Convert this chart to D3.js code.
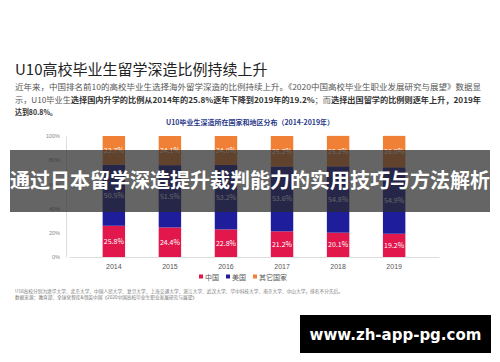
<!DOCTYPE html>
<html>
<head>
<meta charset="utf-8">
<script src="https://cdn.jsdelivr.net/npm/d3@7"></script>
<style>
  body { margin: 0; background: #fff; }
  svg { display: block; font-family: "Noto Sans CJK SC", "Noto Sans", sans-serif; }
</style>
</head>
<body>
<svg id="chart" width="500" height="362"></svg>
<script>
// data
const years = ['2014', '2015', '2016', '2017', '2018', '2019'];
const china = [25.8, 24.4, 22.8, 21.2, 20.1, 19.2];
const usa = [50.5, 51.5, 53.2, 53.6, 54.8, 54.9];
const other = [23.7, 24.1, 24.0, 25.2, 25.2, 26.0];
const seriesNames = ['中国', '美国', '其它国家'];
const yTicks = [0, 20, 40, 60, 80, 100];

const colors = { '中国': '#e2174c', '美国': '#1e1e9c', '其它国家': '#ef8035' };

const svg = d3.select('#chart');

// page title + intro text
svg.append('text')
    .attr('x', 15).attr('y', 75)
    .attr('font-size', 15).attr('fill', '#222')
    .text('U10高校毕业生留学深造比例持续上升');

// each line: pieces of [text, bold?]
const para = [
    {parts: [['近年来，中国排名前10的高校毕业生选择海外留学深造的比例持续上升。《2020中国高校毕业生职业发展研究与展望》数据显', false]], y: 90, w: 466},
    {parts: [['示，U10毕业生', false], ['选择国内升学的比例从2014年的25.8%逐年下降到2019年的19.2%', true], ['；而', false], ['选择出国留学的比例则逐年上升，2019年', true]], y: 103, w: 466},
    {parts: [['达到80.8%。', true]], y: 115, w: 42}
];
const paraText = svg.selectAll('.para').data(para).enter().append('text')
    .attr('class', 'para')
    .attr('x', 15).attr('y', d => d.y)
    .attr('font-size', 7.5).attr('fill', '#555')
    .attr('textLength', d => d.w).attr('lengthAdjust', 'spacingAndGlyphs');
paraText.selectAll('tspan').data(d => d.parts).enter().append('tspan')
    .attr('font-weight', d => d[1] ? 'bold' : 'normal')
    .attr('fill', d => d[1] ? '#333' : '#555')
    .text(d => d[0]);

svg.append('text')
    .attr('x', 250).attr('y', 125)
    .attr('text-anchor', 'middle')
    .attr('font-size', 7).attr('font-weight', 'bold').attr('fill', '#2a3a8a')
    .text('U10毕业生深造所在国家和地区分布（2014-2019年）');

// scales
const x = d3.scaleBand().domain(years).range([69, 439]).padding(0.6);
const y = d3.scaleLinear().domain([0, 100]).range([257, 136]);

const table = years.map((yr, i) => ({year: yr, '中国': china[i], '美国': usa[i], '其它国家': other[i]}));
const stack = d3.stack().keys(seriesNames)(table);

// y axis
const yAxis = svg.append('g')
    .attr('transform', 'translate(66,0)')
    .call(d3.axisLeft(y).tickValues(yTicks).tickFormat(d => d + '%').tickSize(0).tickPadding(6));
yAxis.select('.domain').attr('stroke', '#ddd');
yAxis.selectAll('text').attr('font-size', 5.5).attr('fill', '#888');

// bars
const layers = svg.selectAll('.layer').data(stack).enter().append('g')
    .attr('class', 'layer')
    .attr('fill', d => colors[d.key]);

layers.selectAll('rect').data(d => d).enter().append('rect')
    .attr('x', d => x(d.data.year))
    .attr('width', x.bandwidth())
    .attr('y', d => y(d[1]))
    .attr('height', d => y(d[0]) - y(d[1]));

layers.selectAll('.lbl').data(d => d.map(v => ({v, key: d.key}))).enter().append('text')
    .attr('class', 'lbl')
    .attr('x', d => x(d.v.data.year) + x.bandwidth() / 2)
    .attr('y', d => (y(d.v[0]) + y(d.v[1])) / 2 + 2.5)
    .attr('text-anchor', 'middle')
    .attr('font-size', 7).attr('fill', '#fff')
    .text(d => d.v.data[d.key].toFixed(1) + '%');

// x axis
const xAxis = svg.append('g')
    .attr('transform', 'translate(0,257)')
    .call(d3.axisBottom(x).tickSize(0).tickPadding(7));
xAxis.select('.domain').attr('stroke', '#ddd');
xAxis.selectAll('text').attr('font-size', 7).attr('fill', '#555');

// legend
const legX = [199, 226, 253];
const leg = svg.selectAll('.leg').data(seriesNames).enter().append('g')
    .attr('class', 'leg')
    .attr('transform', (d, i) => `translate(${legX[i]},278)`);
leg.append('rect').attr('x', 0).attr('y', -3.5).attr('width', 4).attr('height', 4)
    .attr('fill', d => colors[d]);
leg.append('text').attr('x', 6).attr('y', 0.5)
    .attr('dominant-baseline', 'middle')
    .attr('font-size', 7).attr('fill', '#555')
    .text(d => d);

// footnotes
const notes = [
    {t: 'U10高校分别为清华大学、北京大学、中国人民大学、复旦大学、上海交通大学、浙江大学、武汉大学、华中科技大学、南京大学、中山大学，排名不分先后。', y: 293, w: 328},
    {t: '数据来源：教育部、全球化智库&领英中国《2020中国高校毕业生职业发展研究与展望》', y: 298.5, w: 182}
];
svg.selectAll('.note').data(notes).enter().append('text')
    .attr('class', 'note')
    .attr('x', 15).attr('y', d => d.y)
    .attr('font-size', 4.5).attr('fill', '#777')
    .attr('textLength', d => d.w).attr('lengthAdjust', 'spacingAndGlyphs')
    .text(d => d.t);

// overlay banner
svg.append('rect')
    .attr('x', 10).attr('y', 150).attr('width', 480).attr('height', 62)
    .attr('fill', '#2a2a2a').attr('fill-opacity', 0.72);
svg.append('text')
    .attr('x', 250).attr('y', 188)
    .attr('text-anchor', 'middle')
    .attr('font-size', 20).attr('font-weight', 'bold').attr('fill', '#fff')
    .attr('textLength', 480).attr('lengthAdjust', 'spacingAndGlyphs')
    .text('通过日本留学深造提升裁判能力的实用技巧与方法解析');

// url badge
svg.append('rect')
    .attr('x', 300).attr('y', 315).attr('width', 191).attr('height', 38)
    .attr('fill', '#000');
svg.append('text')
    .attr('x', 395.5).attr('y', 340)
    .attr('text-anchor', 'middle')
    .attr('font-family', 'DejaVu Sans, sans-serif')
    .attr('font-size', 15).attr('font-weight', 'bold').attr('fill', '#fff')
    .text('www.zh-app-pg.com');
</script>
</body>
</html>
